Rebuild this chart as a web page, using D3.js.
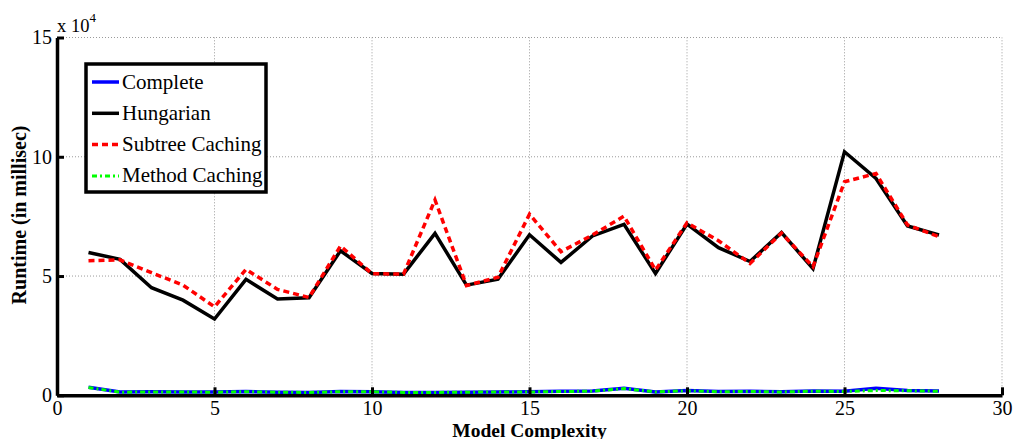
<!DOCTYPE html>
<html>
<head>
<meta charset="utf-8">
<script src="https://cdn.jsdelivr.net/npm/d3@7"></script>
<style>
  body { margin: 0; background: #fff; }
  svg { display: block; }
  svg text { font-family: "Liberation Serif", "Times New Roman", serif; fill: #000; }
</style>
</head>
<body>
<svg id="chart"></svg>
<script>
const complexity = d3.range(1, 29);
// runtimes in milliseconds
const hungarian = [59900, 57000, 45100, 39900, 32000, 48600, 40400, 40900, 60600, 51100,
   50800, 67900, 46200, 48700, 67300, 55700, 66800, 71700, 51100, 71800,
   61900, 56100, 68200, 53100, 102100, 90900, 71000, 67200];
const subtreeCaching = [56400, 56800, 51400, 46200, 37100, 52800, 44400, 41000, 62600, 51000,
   50800, 81900, 46000, 49500, 75900, 60200, 67200, 75100, 52500, 72300,
   64800, 55300, 68000, 53900, 89500, 93000, 71400, 66500];
const completeRun = [3400, 1400, 1500, 1400, 1400, 1600, 1300, 1200, 1600, 1500,
   1200, 1200, 1300, 1400, 1500, 1700, 1800, 3000, 1400, 2000,
   1600, 1700, 1500, 1800, 1700, 3000, 2000, 1800];
const methodCaching = [3300, 1300, 1400, 1400, 1300, 1500, 1300, 1200, 1500, 1500,
   1200, 1200, 1300, 1400, 1400, 1600, 1700, 2800, 1400, 1900,
   1500, 1600, 1400, 1700, 1600, 2000, 1900, 1700];
const xTicks = [0, 5, 10, 15, 20, 25, 30];
const yTicks = [0, 50000, 100000, 150000];

const width = 1014, height = 439;
const svg = d3.select("#chart").attr("width", width).attr("height", height);

const x = d3.scaleLinear().domain([0, 30]).range([57, 1002]);
const y = d3.scaleLinear().domain([0, 150000]).range([395.3, 37.5]);

// grid
const grid = svg.append("g").attr("stroke", "#9a9a9a").attr("stroke-width", 1).attr("stroke-dasharray", "1,2");
grid.selectAll(".gx").data(xTicks.slice(1)).enter().append("line")
   .attr("x1", d => x(d)).attr("x2", d => x(d))
   .attr("y1", y(0)).attr("y2", y(150000));
grid.selectAll(".gy").data(yTicks.slice(1)).enter().append("line")
   .attr("x1", x(0)).attr("x2", x(30))
   .attr("y1", d => y(d)).attr("y2", d => y(d));

// series
const line = d3.line().x((d, i) => x(complexity[i])).y(d => y(d));
const series = [
   { name: "Complete", data: completeRun, color: "#0000ff", dash: null, width: 3.5 },
   { name: "Hungarian", data: hungarian, color: "#000000", dash: null, width: 3.5 },
   { name: "Subtree Caching", data: subtreeCaching, color: "#ff0000", dash: "6,4", width: 3.5 },
   { name: "Method Caching", data: methodCaching, color: "#00ff00", dash: "5,3,2,3", width: 3 }
];
// draw Hungarian/Subtree first, low lines after
[1, 2, 0, 3].forEach(k => {
   const s = series[k];
   svg.append("path")
      .attr("d", line(s.data))
      .attr("fill", "none")
      .attr("stroke", s.color)
      .attr("stroke-width", s.width)
      .attr("stroke-dasharray", s.dash);
});

// axes
const xAxis = d3.axisBottom(x).tickValues(xTicks).tickSizeInner(-8).tickSizeOuter(0).tickPadding(5.5);
const gx = svg.append("g").attr("transform", `translate(0,${y(0)})`).call(xAxis);
gx.attr("font-family", null).attr("font-size", null);
gx.select(".domain").attr("stroke-width", 3.5);
gx.selectAll(".tick line").attr("stroke-width", 3);
gx.selectAll("text").attr("font-size", 20);

const yAxis = d3.axisLeft(y).tickValues(yTicks).tickSizeInner(-7).tickSizeOuter(0).tickPadding(5)
   .tickFormat(d => d / 10000);
const gy = svg.append("g").attr("transform", `translate(${x(0)},0)`).call(yAxis);
gy.attr("font-family", null).attr("font-size", null);
gy.select(".domain").attr("stroke-width", 3.5);
gy.selectAll(".tick line").attr("stroke-width", 3);
gy.selectAll("text").attr("font-size", 20);

// exponent
const expo = svg.append("text").attr("x", 57).attr("y", 32).attr("font-size", 18.5);
expo.append("tspan").text("x 10");
expo.append("tspan").attr("dy", -10).attr("font-size", 13).text("4");

// axis labels
svg.append("text")
   .attr("x", x(15)).attr("y", 436.5)
   .attr("text-anchor", "middle").attr("font-weight", "bold").attr("font-size", 19.5)
   .text("Model Complexity");
svg.append("text")
   .attr("transform", `translate(26,215) rotate(-90)`)
   .attr("text-anchor", "middle").attr("font-weight", "bold").attr("font-size", 20)
   .text("Runtime (in millisec)");

// legend
const legend = svg.append("g").attr("transform", "translate(86,64)");
legend.append("rect").attr("width", 180).attr("height", 128)
   .attr("fill", "#fff").attr("stroke", "#000").attr("stroke-width", 3.5);
series.forEach((s, i) => {
   const ly = 18 + i * 31.3;
   legend.append("line").attr("x1", 6).attr("x2", 33).attr("y1", ly).attr("y2", ly)
      .attr("stroke", s.color).attr("stroke-width", s.width).attr("stroke-dasharray", s.dash);
   legend.append("text").attr("x", 36).attr("y", ly + 6.5).attr("font-size", 21).text(s.name);
});
</script>
</body>
</html>
